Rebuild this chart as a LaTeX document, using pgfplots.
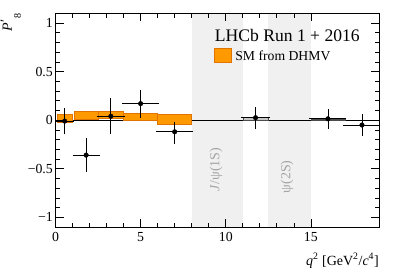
\documentclass[border=0pt]{standalone}
\usepackage{fontspec}
\setmainfont{Liberation Serif}
\usepackage{pgfplots}
\pgfplotsset{compat=1.18}
\definecolor{smfill}{RGB}{255,153,0}
\definecolor{smdraw}{RGB}{225,115,0}
\definecolor{bandgray}{RGB}{240,240,240}
\definecolor{bandtext}{RGB}{165,165,165}
\begin{document}
\begin{tikzpicture}
\begin{axis}[
  scale only axis,
  width=323.5pt, height=213.7pt,
  xmin=0, xmax=19, ymin=-1.1, ymax=1.1,
  axis on top,
  axis line style={line width=0.9pt},
  xtick={0,5,10,15}, xticklabels={0,5,10,15},
  minor x tick num=4,
  ytick={-1,-0.5,0,0.5,1}, yticklabels={−1,−0.5,0,0.5,1},
  minor y tick num=4,
  tick align=inside,
  major tick length=8pt, minor tick length=4.5pt,
  every tick/.style={black, line width=0.7pt},
  tick label style={font=\fontsize{13.8}{15}\selectfont},
  xticklabel style={inner sep=5.5pt},
  yticklabel style={inner sep=2.5pt},
]
% vetoed charmonium regions
\addplot[fill=bandgray, draw=none] coordinates {(8,-1.1) (11,-1.1) (11,1.1) (8,1.1)} -- cycle;
\addplot[fill=bandgray, draw=none] coordinates {(12.5,-1.1) (15,-1.1) (15,1.1) (12.5,1.1)} -- cycle;
\node[rotate=90, anchor=west, text=bandtext, font=\fontsize{14}{16}\selectfont] at (axis cs:9.42,-0.77) {\textit{J}/ψ(1S)};
\node[rotate=90, anchor=west, text=bandtext, font=\fontsize{14}{16}\selectfont] at (axis cs:13.6,-0.79) {ψ(2S)};
% zero line
\addplot[black, line width=0.6pt] coordinates {(0,0) (19,0)};
% SM predictions
\addplot[fill=smfill, draw=smdraw, line width=0.6pt] coordinates {(0.1,-0.017) (0.98,-0.017) (0.98,0.065) (0.1,0.065)} -- cycle;
\addplot[fill=smfill, draw=smdraw, line width=0.6pt] coordinates {(1.1,0.005) (2.5,0.005) (2.5,0.09) (1.1,0.09)} -- cycle;
\addplot[fill=smfill, draw=smdraw, line width=0.6pt] coordinates {(2.5,0.017) (4,0.017) (4,0.086) (2.5,0.086)} -- cycle;
\addplot[fill=smfill, draw=smdraw, line width=0.6pt] coordinates {(4,0.0) (6,0.0) (6,0.07) (4,0.07)} -- cycle;
\addplot[fill=smfill, draw=smdraw, line width=0.6pt] coordinates {(6,-0.04) (8,-0.04) (8,0.06) (6,0.06)} -- cycle;
\addplot[fill=gray!45, draw=gray!60!black, line width=0.5pt] coordinates {(11,0.003) (12.5,0.003) (12.5,0.027) (11,0.027)} -- cycle;
\addplot[fill=gray!45, draw=gray!60!black, line width=0.5pt] coordinates {(15,-0.004) (17,-0.004) (17,0.012) (15,0.012)} -- cycle;
% data
\addplot[only marks, mark=*, mark size=2.3pt, black,
  error bars/.cd, x dir=both, x explicit, y dir=both, y explicit,
  error bar style={line width=0.8pt, black},
  error mark options={black, mark size=1.5pt, line width=0.8pt}]
coordinates {
(0.54,-0.01) += (0.44,0.12) -= (0.44,0.12)
(1.8,-0.36) += (0.7,0.16) -= (0.7,0.16)
(3.25,0.04) += (0.75,0.17) -= (0.75,0.17)
(5.0,0.17) += (1,0.13) -= (1,0.13)
(7.0,-0.12) += (1,0.09) -= (1,0.11)
(11.75,0.025) += (0.75,0.095) -= (0.75,0.105)
(16.0,0.014) += (1,0.09) -= (1,0.09)
(18.0,-0.05) += (1,0.10) -= (1,0.10)
};
% legend
\node[anchor=base west, font=\fontsize{17.6}{19}\selectfont, inner sep=0pt] at (axis cs:9.35,0.81) {LHCb Run 1 + 2016};
\addplot[fill=smfill, draw=smdraw, line width=0.6pt] coordinates {(9.35,0.6) (10.33,0.6) (10.33,0.743) (9.35,0.743)} -- cycle;
\node[anchor=base west, font=\fontsize{13.7}{15}\selectfont, inner sep=0pt] at (axis cs:10.55,0.617) {SM from DHMV};
\coordinate (bl) at (rel axis cs:0,0);
\coordinate (tr) at (rel axis cs:1,1);
\coordinate (tl) at (rel axis cs:0,1);
\coordinate (br) at (rel axis cs:1,0);
\end{axis}
\node[rotate=90, anchor=base east, inner sep=0pt, font=\fontsize{14}{16}\selectfont] at ([xshift=-43.5pt]tl) {\textit{P}\kern0.5pt\raisebox{2pt}{′}\kern1pt\raisebox{-9pt}{\fontsize{10}{10}\selectfont 8}};
\node[anchor=base east, inner sep=0pt, font=\fontsize{14}{16}\selectfont] at ([yshift=-38pt]br) {\textit{q}\textsuperscript{2} [GeV\textsuperscript{2}/\textit{c}\textsuperscript{4}]};
\pgfresetboundingbox
\path ([xshift=-55.5pt,yshift=-44pt]bl) rectangle ([xshift=20pt,yshift=13.3pt]tr);
\end{tikzpicture}
\end{document}
